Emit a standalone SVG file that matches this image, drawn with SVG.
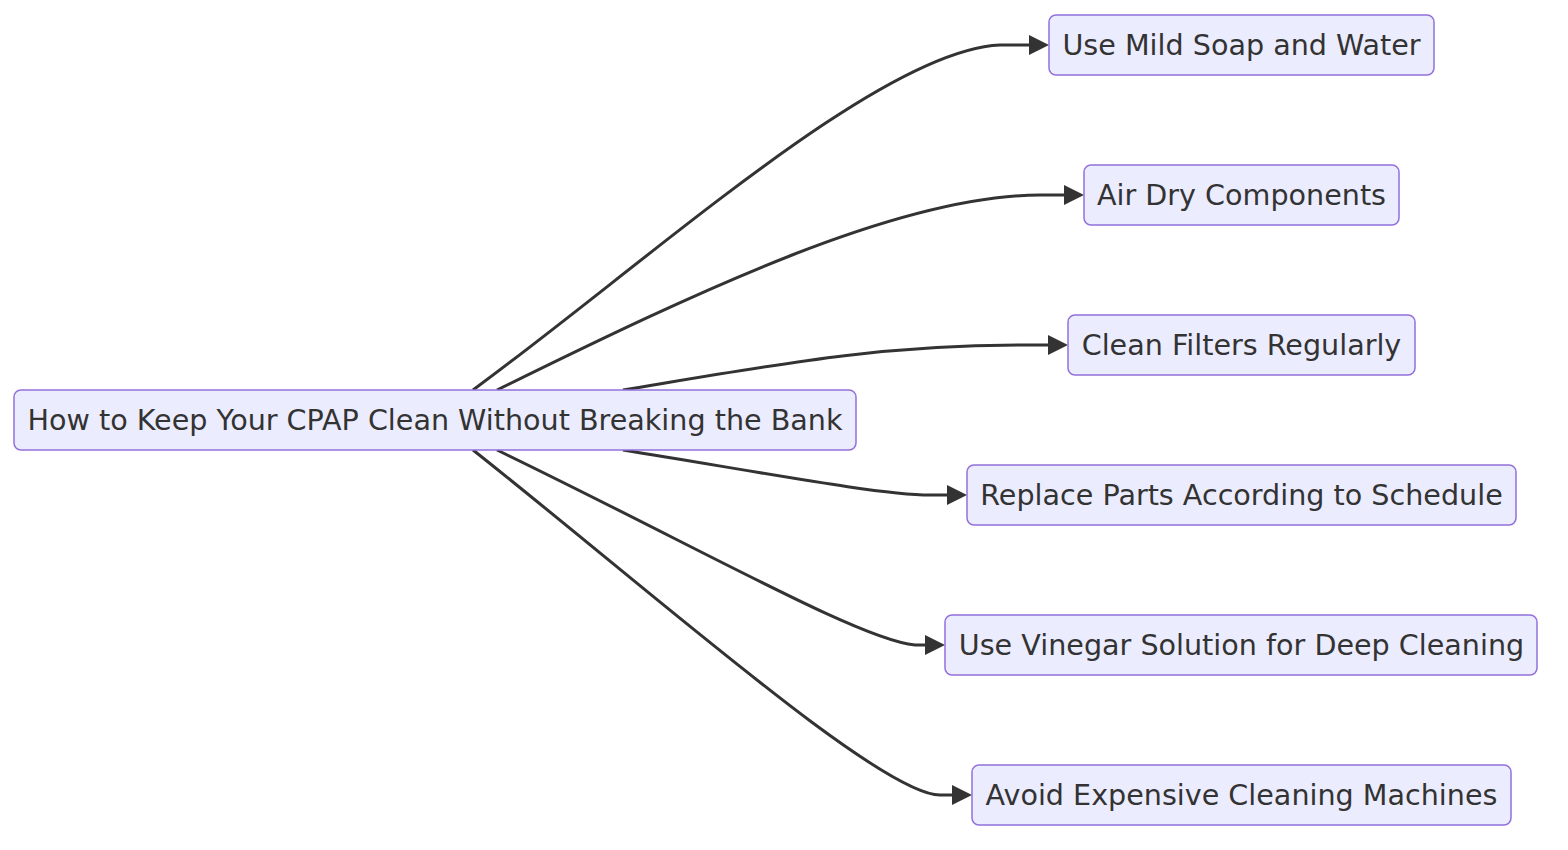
<svg xmlns="http://www.w3.org/2000/svg" width="1568" height="850" viewBox="0 0 1568 850">
<style>
.node rect{fill:#ECECFF;stroke:#9370DB;stroke-width:1.5}
.node text{font-family:"DejaVu Sans",sans-serif;font-size:28.6px;fill:#333;text-anchor:middle;dominant-baseline:central}
.edge{fill:none;stroke:#333;stroke-width:3}
</style>
<defs>
<marker id="arr" viewBox="0 0 10 10" refX="0" refY="5" markerWidth="20" markerHeight="20" markerUnits="userSpaceOnUse" orient="auto">
<path d="M0,0 L10,5 L0,10 z" fill="#333"/>
</marker>
</defs>
<rect width="1568" height="850" fill="#fff"/>
<g id="connectors">
<path class="edge" marker-end="url(#arr)" d="M473,390 C650,260 880,50 1000,45 L1029,45"/>
<path class="edge" marker-end="url(#arr)" d="M497,390 C700,290 900,195 1040,195 L1064,195"/>
<path class="edge" marker-end="url(#arr)" d="M623,390 C780,364 880,345 1020,345 L1048,345"/>
<path class="edge" marker-end="url(#arr)" d="M623,450 C760,472 880,495 930,495 L947,495"/>
<path class="edge" marker-end="url(#arr)" d="M497,450 C700,548 860,640 915,645 L925,645"/>
<path class="edge" marker-end="url(#arr)" d="M473,450 C650,590 880,795 940,795 L952,795"/>
</g>
<g id="root" class="node"><rect x="14" y="390" width="842" height="60" rx="7"/><text x="435" y="420">How to Keep Your CPAP Clean Without Breaking the Bank</text></g>
<g id="n1" class="node"><rect x="1049" y="15" width="385" height="60" rx="7"/><text x="1241.5" y="45">Use Mild Soap and Water</text></g>
<g id="n2" class="node"><rect x="1084" y="165" width="315" height="60" rx="7"/><text x="1241.5" y="195">Air Dry Components</text></g>
<g id="n3" class="node"><rect x="1068" y="315" width="347" height="60" rx="7"/><text x="1241.5" y="345">Clean Filters Regularly</text></g>
<g id="n4" class="node"><rect x="967" y="465" width="549" height="60" rx="7"/><text x="1241.5" y="495">Replace Parts According to Schedule</text></g>
<g id="n5" class="node"><rect x="945" y="615" width="592" height="60" rx="7"/><text x="1241.5" y="645">Use Vinegar Solution for Deep Cleaning</text></g>
<g id="n6" class="node"><rect x="972" y="765" width="539" height="60" rx="7"/><text x="1241.5" y="795">Avoid Expensive Cleaning Machines</text></g>
</svg>
